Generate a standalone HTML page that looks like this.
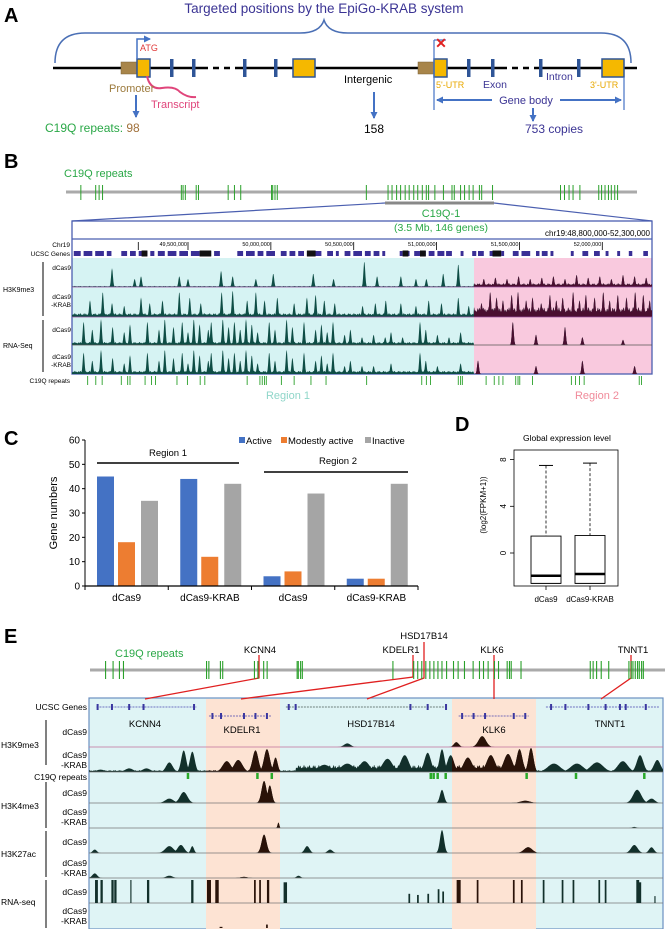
<!DOCTYPE html>
<html><head><meta charset="utf-8">
<style>
body{margin:0;background:#fff}
svg{display:block;font-family:"Liberation Sans",Arial,sans-serif}
</style></head><body>
<svg id="fig" width="665" height="929" viewBox="0 0 665 929" xmlns="http://www.w3.org/2000/svg">
<defs>
<marker id="ab" markerWidth="7" markerHeight="7" refX="6" refY="3.5" orient="auto" markerUnits="userSpaceOnUse"><path d="M0,0 L7,3.5 L0,7 z" fill="#4472c4"/></marker>
<clipPath id="clipB2"><rect x="474" y="250" width="178" height="130"/></clipPath>
<clipPath id="clipEpeach"><rect x="206" y="700" width="74" height="229"/><rect x="452" y="700" width="84" height="229"/></clipPath>
</defs>

<!-- PANEL A -->
<g>
<text x="4" y="22" font-size="20" font-weight="bold">A</text>
<text x="324" y="13" font-size="13.5" fill="#3b3494" text-anchor="middle">Targeted positions by the EpiGo-KRAB system</text>
<path d="M55,63 Q55,33 85,33 L300,33 Q320,33 324,20 Q328,33 348,33 L601,33 Q631,33 631,63" fill="none" stroke="#4a6fb5" stroke-width="1.5"/>
<line x1="53" y1="68" x2="637" y2="68" stroke="#000" stroke-width="2.5"/>
<rect x="202" y="66" width="36" height="4" fill="#fff"/>
<line x1="202" y1="68" x2="238" y2="68" stroke="#000" stroke-width="2.5" stroke-dasharray="6,5"/>
<rect x="501" y="66" width="33" height="4" fill="#fff"/>
<line x1="501" y1="68" x2="534" y2="68" stroke="#000" stroke-width="2.5" stroke-dasharray="6,5"/>
<rect x="121" y="62" width="16" height="12" fill="#a8854a" stroke="#7a6035" stroke-width="0.5"/>
<rect x="137" y="59" width="13" height="18" fill="#f5b800" stroke="#2f5597" stroke-width="1.5"/>
<rect x="170" y="59" width="3.5" height="18" fill="#2f5597"/>
<rect x="192" y="59" width="3.5" height="18" fill="#2f5597"/>
<rect x="243" y="59" width="3.5" height="18" fill="#2f5597"/>
<rect x="274" y="59" width="3.5" height="18" fill="#2f5597"/>
<rect x="293" y="59" width="22" height="18" fill="#f5b800" stroke="#2f5597" stroke-width="1.5"/>
<path d="M137,59 L137,39 L150,39" fill="none" stroke="#4472c4" stroke-width="1.5" marker-end="url(#ab)"/>
<text x="140" y="51" font-size="9" fill="#e03a3a">ATG</text>
<path d="M147,76 Q150,90 162,88 Q175,86 180,92 Q188,98 196,97" fill="none" stroke="#e0457b" stroke-width="2"/>
<text x="109" y="92" font-size="11" fill="#9c7a3c">Promoter</text>
<text x="151" y="108" font-size="11" fill="#e0457b">Transcript</text>
<line x1="136" y1="95" x2="136" y2="117" stroke="#4472c4" stroke-width="2" marker-end="url(#ab)"/>
<text x="45" y="132" font-size="12" fill="#2aa847">C19Q repeats: <tspan fill="#a0703a">98</tspan></text>
<text x="344" y="83" font-size="11">Intergenic</text>
<line x1="374" y1="92" x2="374" y2="118" stroke="#4472c4" stroke-width="2" marker-end="url(#ab)"/>
<text x="364" y="133" font-size="12">158</text>
<rect x="418" y="62" width="16" height="12" fill="#a8854a" stroke="#7a6035" stroke-width="0.5"/>
<rect x="434" y="59" width="13" height="18" fill="#f5b800" stroke="#2f5597" stroke-width="1.5"/>
<rect x="467" y="59" width="3.5" height="18" fill="#2f5597"/>
<rect x="491" y="59" width="3.5" height="18" fill="#2f5597"/>
<rect x="539" y="59" width="3.5" height="18" fill="#2f5597"/>
<rect x="577" y="59" width="3.5" height="18" fill="#2f5597"/>
<rect x="602" y="59" width="22" height="18" fill="#f5b800" stroke="#2f5597" stroke-width="1.5"/>
<line x1="434" y1="40" x2="434" y2="110" stroke="#4472c4" stroke-width="1.2"/>
<line x1="434" y1="40" x2="446" y2="40" stroke="#4472c4" stroke-width="1.2"/>
<text x="441" y="48" font-size="14" font-weight="bold" fill="#e02020" text-anchor="middle">✕</text>
<text x="436" y="88" font-size="9" fill="#e8a800">5'-UTR</text>
<text x="483" y="88" font-size="10.5" fill="#3b3494">Exon</text>
<text x="546" y="80" font-size="10.5" fill="#3b3494">Intron</text>
<text x="590" y="88" font-size="9" fill="#e8a800">3'-UTR</text>
<line x1="624" y1="77" x2="624" y2="110" stroke="#4472c4" stroke-width="1.2"/>
<line x1="492" y1="100" x2="437" y2="100" stroke="#4472c4" stroke-width="2" marker-end="url(#ab)"/>
<line x1="560" y1="100" x2="621" y2="100" stroke="#4472c4" stroke-width="2" marker-end="url(#ab)"/>
<text x="526" y="104" font-size="11" fill="#3b3494" text-anchor="middle">Gene body</text>
<line x1="533" y1="108" x2="533" y2="121" stroke="#4472c4" stroke-width="2" marker-end="url(#ab)"/>
<text x="525" y="133" font-size="12" fill="#3b3494">753 copies</text>
</g>

<!-- PANEL B -->
<g id="pB">
<text x="4" y="168" font-size="20" font-weight="bold">B</text>
<text x="64" y="177" font-size="11" fill="#2aa847">C19Q repeats</text>
<line x1="66" y1="192" x2="637" y2="192" stroke="#aaa" stroke-width="3"/>
<line x1="385" y1="203" x2="494" y2="203" stroke="#888" stroke-width="3"/>
<path d="M385,203 L72,221 M494,203 L652,221" stroke="#4b5fb0" stroke-width="1.2" fill="none"/>
<text x="441" y="217" font-size="11" fill="#2aa847" text-anchor="middle">C19Q-1</text>
<text x="441" y="231" font-size="10.5" fill="#2aa847" text-anchor="middle">(3.5 Mb, 146 genes)</text>
<text x="650" y="236" font-size="8" text-anchor="end">chr19:48,800,000-52,300,000</text>
<rect x="72" y="258" width="402" height="116" fill="#d6f3f3"/>
<rect x="474" y="258" width="178" height="116" fill="#f9c9de"/>
<text x="70" y="247" font-size="6.5" text-anchor="end">Chr19</text>
<text x="70" y="256" font-size="6.5" text-anchor="end">UCSC Genes</text>
<text x="3" y="292" font-size="7">H3K9me3</text>
<line x1="43" y1="262" x2="43" y2="316" stroke="#000"/>
<text x="71" y="270" font-size="6.5" text-anchor="end">dCas9</text>
<text x="71" y="299" font-size="6.5" text-anchor="end">dCas9</text>
<text x="71" y="307" font-size="6.5" text-anchor="end">-KRAB</text>
<text x="3" y="348" font-size="7">RNA-Seq</text>
<line x1="43" y1="320" x2="43" y2="372" stroke="#000"/>
<text x="71" y="332" font-size="6.5" text-anchor="end">dCas9</text>
<text x="71" y="359" font-size="6.5" text-anchor="end">dCas9</text>
<text x="71" y="367" font-size="6.5" text-anchor="end">-KRAB</text>
<text x="70" y="383" font-size="6.5" text-anchor="end">C19Q repeats</text>
<text x="288" y="399" font-size="11" fill="#8fd6c9" text-anchor="middle">Region 1</text>
<text x="597" y="399" font-size="11" fill="#f08a9a" text-anchor="middle">Region 2</text>
</g>

<!-- PANEL C -->
<g id="pC">
<text x="4" y="445" font-size="20" font-weight="bold">C</text>
<text x="57" y="513" font-size="11" text-anchor="middle" transform="rotate(-90 57 513)">Gene numbers</text>
<line x1="97" y1="463" x2="239" y2="463" stroke="#000" stroke-width="1.5"/>
<text x="168" y="456" font-size="9.5" text-anchor="middle">Region 1</text>
<line x1="264" y1="472" x2="408" y2="472" stroke="#000" stroke-width="1.5"/>
<text x="338" y="464" font-size="9.5" text-anchor="middle">Region 2</text>
<g>
<rect x="239" y="437" width="6" height="6" fill="#4472c4"/>
<text x="246" y="444" font-size="9.5">Active</text>
<rect x="281" y="437" width="6" height="6" fill="#ed7d31"/>
<text x="288" y="444" font-size="9.5">Modestly active</text>
<rect x="365" y="437" width="6" height="6" fill="#a5a5a5"/>
<text x="372" y="444" font-size="9.5">Inactive</text>
</g>
</g>

<!-- PANEL D -->
<g id="pD">
<text x="455" y="431" font-size="20" font-weight="bold">D</text>
<text x="567" y="441" font-size="8.5" text-anchor="middle">Global expression level</text>
<rect x="514" y="450" width="104" height="136" fill="none" stroke="#000" stroke-width="0.8"/>
<text x="486" y="505" font-size="8" text-anchor="middle" transform="rotate(-90 486 505)">(log2(FPKM+1))</text>
</g>

<!-- PANEL E -->
<g id="pE">
<text x="4" y="643" font-size="20" font-weight="bold">E</text>
<text x="115" y="657" font-size="11" fill="#2aa847">C19Q repeats</text>
<line x1="90" y1="670" x2="667" y2="670" stroke="#aaa" stroke-width="3"/>
<rect x="89" y="698" width="574" height="231" fill="#dff4f5" stroke="#6b8fc0" stroke-width="1.2"/>
<rect x="206" y="699" width="74" height="230" fill="#fde3d3"/>
<rect x="452" y="699" width="84" height="230" fill="#fde3d3"/>
<g font-size="8.5">
<text x="87" y="710" text-anchor="end">UCSC Genes</text>
<text x="1" y="748">H3K9me3</text>
<text x="87" y="735" text-anchor="end">dCas9</text>
<text x="87" y="758" text-anchor="end">dCas9</text>
<text x="87" y="768" text-anchor="end">-KRAB</text>
<text x="87" y="780" text-anchor="end">C19Q repeats</text>
<text x="1" y="809">H3K4me3</text>
<text x="87" y="796" text-anchor="end">dCas9</text>
<text x="87" y="815" text-anchor="end">dCas9</text>
<text x="87" y="825" text-anchor="end">-KRAB</text>
<text x="1" y="857">H3K27ac</text>
<text x="87" y="845" text-anchor="end">dCas9</text>
<text x="87" y="866" text-anchor="end">dCas9</text>
<text x="87" y="876" text-anchor="end">-KRAB</text>
<text x="1" y="905">RNA-seq</text>
<text x="87" y="895" text-anchor="end">dCas9</text>
<text x="87" y="914" text-anchor="end">dCas9</text>
<text x="87" y="924" text-anchor="end">-KRAB</text>
</g>
<line x1="46" y1="720" x2="46" y2="765" stroke="#000"/>
<line x1="46" y1="782" x2="46" y2="828" stroke="#000"/>
<line x1="46" y1="831" x2="46" y2="877" stroke="#000"/>
<line x1="46" y1="880" x2="46" y2="928" stroke="#000"/>
<g font-size="9.5" text-anchor="middle">
<text x="145" y="727">KCNN4</text>
<text x="242" y="733">KDELR1</text>
<text x="371" y="727">HSD17B14</text>
<text x="494" y="733">KLK6</text>
<text x="610" y="727">TNNT1</text>
<text x="260" y="653">KCNN4</text>
<text x="401" y="653">KDELR1</text>
<text x="424" y="639">HSD17B14</text>
<text x="492" y="653">KLK6</text>
<text x="633" y="653">TNNT1</text>
</g>
<path d="M259,655 L259,678 L145,699 M413,655 L413,677 L241,699 M424,642 L424,678 L367,699 M494,655 L494,699 M631,655 L631,678 L601,699" stroke="#e02020" stroke-width="1.3" fill="none"/>
</g>

<script>
// ===== Panel B data (positions in % of the 3.5 Mb window) =====
const bOverviewRepeats=[2.6,5.2,5.8,6.4,20.2,20.5,20.9,22.8,23.2,28.4,29.5,30.6,36,36.2,36.6,37,52.6,56.4,57.1,57.9,58.6,59.4,60.1,60.9,61.6,62.4,63.1,63.5,64.6,66.1,67.6,68,69.1,69.8,70.6,71.3,72.4,72.8,74.7,86.6,87.3,88.1,88.8,90,93.3,93.8,94.4,95,95.5,96.1,96.6];
const bRulerTicks=[49.2,49.5,50.0,50.5,51.0,51.5,52.0];
const bRulerLabels=['','49,500,000','50,000,000','50,500,000','51,000,000','51,500,000','52,000,000'];
const bGenes=[[0.3,1.5],[2,3.5],[4,5.5],[6,6.8],[8.5,9.5],[10,11],[11.5,13],[13.5,14.2],[14.8,16],[16.5,18],[18.5,20],[20.5,22],[22.5,24],[24.5,25.5],[28.5,29.5],[30,31.5],[32,33],[33.5,35],[36,37],[37.5,38.5],[39,40],[40.5,43],[44,45],[45.5,46],[47,48],[48.5,50],[50.5,51.5],[52,53],[53.5,54],[56.5,57],[57.5,58.2],[59,61],[61.5,62.5],[63,64.2],[64.5,65.5],[67,67.5],[69,69.7],[70,71],[72,72.5],[74,74.5],[76,77],[77.5,79],[80,80.6],[81,82],[82.5,83],[86,86.5],[88,89],[90,91],[92,92.5],[94,94.5],[96,96.6],[98.5,99.3]];
const bGenesBlack=[[12,13],[22,24],[40.5,42],[57,58],[60,61],[72.5,74]];
const bK9Dcas9=[[6.9,.7],[10.8,.3],[11.9,.4],[18.5,.4],[20,.3],[25.7,.6],[27.7,.4],[31.7,.3],[34.7,.5],[41.6,.5],[45.1,.3],[50.4,.95],[52.6,.4],[56.7,.4],[59.3,.3],[61.1,.3],[64,.5],[66.6,.85],[71,.3],[73,.35],[75,.3],[77,.4],[79,.3],[81,.35],[83,.4],[85,.3],[87,.45],[89,.35],[91,.4],[93,.3],[95,.45],[97,.4],[99,.35]];
const bK9DcasFloor=[[0,69.3,.04],[69.3,100,.14]];
const bK9Krab=[[3.1,.6],[5.3,.9],[6.9,.5],[9,.4],[11.9,.7],[13.4,.5],[15.6,.6],[18.5,.9],[20.3,.7],[22.2,.5],[25.8,.9],[27.7,.95],[30.2,.6],[31.7,.9],[33.2,.6],[35.4,.7],[38.3,.5],[40.5,.7],[42,.8],[43.5,.6],[45.3,.5],[50.1,.4],[52.3,.5],[54.1,.6],[56.7,.5],[59.3,.4],[61.5,.6],[63.7,.5],[66.6,.7],[68.4,.4],[70.6,.5],[72.1,.9],[73.2,.7],[74.3,.6],[75.8,.8],[76.9,.9],[78.3,.6],[79.4,.7],[80.9,.5],[82.4,.8],[83.5,.6],[84.6,.7],[86.4,.9],[87.5,.6],[88.6,.8],[90.1,.7],[91.6,.9],[92.7,.6],[94.1,.8],[95.6,.7],[97.1,.9],[98.5,.8],[99.6,.6]];
const bK9KrabFloor=[[0,69.3,.14],[69.3,100,.35]];
const bRnaDcas9=[[2,.9],[3.5,.6],[5,1],[7,.7],[9,.5],[10,.8],[13,.9],[15,.6],[16,1],[17.5,.7],[19,.9],[20,.5],[21,1],[22,.8],[23.5,.6],[24,.9],[26,1],[27,.7],[28,.9],[29,.6],[30,1],[31,.8],[32,.5],[34,.9],[35,.6],[37,1],[38,.7],[40,.9],[42,.6],[43,.8],[44,.5],[45,.9],[47,.4],[48,.6],[50,.3],[52,.4],[54,.3],[55,.5],[57,.3],[60,.9],[61,.6],[63,.4],[65,.3],[67,.5],[76,.9],[80,.4],[85,.7],[88,.3],[95,.2]];
const bRnaFloor=[[0,69.3,.12]];
const bRnaKrab=[[2,.8],[3.5,.5],[5,.9],[7,.6],[9,.4],[10,.7],[13,.8],[15,.5],[16,.9],[17.5,.6],[19,.8],[20,.4],[21,.9],[22,.7],[23.5,.5],[24,.8],[26,.9],[27,.6],[28,.8],[29,.5],[30,.9],[31,.7],[32,.4],[34,.8],[35,.5],[37,.9],[38,.6],[40,.8],[42,.5],[43,.7],[44,.4],[45,.8],[47,.3],[48,.5],[50,.3],[52,.3],[55,.4],[60,.8],[61,.5],[63,.3],[67,.4],[70,.5],[80,.3],[88,.5],[97,.3]];
const bRepeatsRow=[2.7,4.1,5.2,8.5,9.6,10,12.6,13.7,14.4,18.1,19.9,22.1,22.9,30.2,32.4,32.8,33.2,33.5,36.1,38.3,41.2,43.8,50.8,60.3,61.1,61.8,66.6,67,67.3,71.4,72.8,73.6,74.3,76.5,76.9,77.2,79.4,86.1,86.8,87.5,88.3,97.8,98.2];

// ===== Panel C data =====
const cCategories=['dCas9','dCas9-KRAB','dCas9','dCas9-KRAB'];
const cActive=[45,44,4,3];
const cModest=[18,12,6,3];
const cInactive=[35,42,38,42];
const cTicks=[0,10,20,30,40,50,60];

// ===== Panel D data =====
const dGroups=['dCas9','dCas9-KRAB'];
const dWhiskerHigh=[7.5,7.7];
const dQ3=[1.45,1.5];
const dMedian=[-1.95,-1.8];
const dQ1=[-2.6,-2.6];
const dWhiskerLow=[-2.6,-2.6];
const dTicks=[0,4,8];

// ===== Panel E data (positions in % of window) =====
const eOverviewRepeats=[2.7,4,5.1,5.8,20.2,20.6,22.6,23,28.5,29.1,30.1,30.7,35.9,36.1,36.5,36.8,52.5,56.1,56.8,57.5,58.2,58.9,59.6,60.3,61,61.8,63,63.8,64.9,66.4,67.5,68.2,69,70.1,70.8,72.3,72.7,73,74.7,86.7,87.2,87.8,88.6,89.9,93.4,93.8,94.1,94.5,94.9,95.2,95.6,95.9];
const eGeneModels=[[1.3,18.7,0],[20.9,31.7,1],[34.3,62.5,0],[64.4,76.6,1],[79.6,99.3,0]];
const eGeneExons=[[1.5,0],[4,0],[7,0],[9.5,0],[18.3,0],[21.5,1],[23,1],[27,1],[29,1],[31,1],[34.8,0],[36,0],[56,0],[59,0],[62.2,0],[65,1],[67,1],[69,1],[74,1],[76,1],[80.5,0],[83,0],[87,0],[90,0],[92.5,0],[93.5,0],[97,0]];
const eK9Dcas9=[[45,.15,.8],[64,.2,.6],[68.5,.45,.9]];
const eK9Krab=[[2,.1,1],[7,.15,1],[10,.15,1],[14,.4,.8],[16.5,.9,.6],[18,.85,.6],[24,.45,1],[26,.5,1],[29,.9,.7],[31,.95,.7],[32.5,.6,.5],[41,.3,1.5],[45,.35,1.5],[48,.45,1.2],[52,.55,1.2],[55,.7,1],[59,.8,.8],[61.5,.95,.6],[63,.7,.8],[66,.6,1],[70,.7,1],[73,.75,1],[75,.95,.7],[77,1,.6],[81,.35,1.5],[85,.35,1.5],[88.5,.4,1.5],[93,.45,1.2],[96,.7,.8],[99,.5,.8]];
const eK9KrabFloor=[[0,100,.08],[36,76,.3]];
const eK4Dcas9=[[14,.2,1],[16.5,.5,.9],[30.5,1,.6],[31.5,.8,.5],[61.5,.6,.5],[76,.1,1.2],[95.5,.6,1],[98,.2,.8]];
const eK4Krab=[[33,.25,.2],[95,.05,.5]];
const eK27Dcas9=[[1,.15,.5],[14,.3,1],[16,.35,.8],[18,.3,.4],[30.5,.8,.6],[38,.3,.6],[42,.15,.6],[61.5,1,.5],[76.5,.25,1],[95,.35,.8],[98,.25,.6]];
const eK27Krab=[[1,.2,.6],[14,.1,.8],[36.5,.1,.5],[27,.05,.8]];
const eRnaDcas9=[[1.3,1,.5],[2.2,1,.4],[4.1,1,.4],[4.6,1,.4],[7.3,1,.2],[10.3,1,.4],[18,1,.4],[20.9,1,.7],[22.3,1,.6],[28.9,1,.3],[29.8,1,.3],[31.2,1,.4],[34.2,.9,.6],[55.8,.4,.3],[57.3,.35,.3],[59.1,.4,.3],[60.9,.6,.3],[61.7,.5,.3],[64.4,1,.7],[67.7,1,.3],[74,1,.3],[75.4,1,.3],[79.2,1,.3],[82.5,1,.3],[84.4,1,.3],[88.9,1,.3],[90,1,.3],[95.6,1,.5],[96,.9,.4],[98.6,.3,.2]];
const eRnaKrab=[[31,.15,.3],[23,.05,.5]];
const eRepeatsRow=[17.2,29.3,31.8,59.5,60,60.7,62.1,76.2,84.8,96.7];

const NS='http://www.w3.org/2000/svg';
const svg=document.getElementById('fig');
function mk(tag,attrs,parent){const e=document.createElementNS(NS,tag);for(const k in attrs)e.setAttribute(k,attrs[k]);(parent||svg).appendChild(e);return e;}
const gB=document.getElementById('pB'), gC=document.getElementById('pC'), gD=document.getElementById('pD'), gE=document.getElementById('pE');

// axis functions
const xOvB=p=>66+p*5.71;
const xB=p=>72+p*5.8;
const xOvE=p=>90+p*5.77;
const xE=p=>89+p*5.74;
const rulerX=mb=>72+(mb-48.8)/3.5*580;

function trackPath(peaks,floors,xf,yb,h,defW,x0,x1){
  let d='M'+x0+','+yb;
  for(let x=x0;x<=x1;x+=0.5){
    let v=0;
    for(const f of floors){const a=xf(f[0]),b=xf(f[1]);if(x>=a&&x<=b){v=Math.max(v,f[2]*(0.5+0.5*Math.abs(Math.sin(x*1.7)*Math.cos(x*0.63))));}}
    for(const p of peaks){const w=(p[2]||defW)*5.77;const t=(x-xf(p[0]))/w;v=Math.max(v,p[1]*Math.exp(-t*t));}
    d+=' L'+x.toFixed(1)+','+(yb-v*h).toFixed(1);
  }
  return d+' L'+x1+','+yb+' Z';
}

// ---- Panel B ----
for(const p of bOverviewRepeats){const l=mk('line',{x1:xOvB(p),x2:xOvB(p),y1:185,y2:200,stroke:'#2aa02a','stroke-width':1},gB);

}
const boxB=mk('rect',{x:72,y:221,width:580,height:153,fill:'none',stroke:'#4b5fb0','stroke-width':1.3},gB);


const sepB=mk('line',{x1:72,x2:652,y1:239,y2:239,stroke:'#4b5fb0','stroke-width':1.2},gB);


bRulerTicks.forEach((t,i)=>{const l=mk('line',{x1:rulerX(t),x2:rulerX(t),y1:242,y2:250,stroke:'#000','stroke-width':0.8},gB);


if(bRulerLabels[i]){const tx=mk('text',{x:rulerX(t)-1,y:246,'font-size':5.5,'text-anchor':'end'},gB);tx.textContent=bRulerLabels[i];

}});
for(const g of bGenes){const r=mk('rect',{x:xB(g[0]),y:251,width:Math.max(1,xB(g[1])-xB(g[0])),height:5,fill:'#3a2f96'},gB);

}
for(const g of bGenesBlack){const r=mk('rect',{x:xB(g[0]),y:250.5,width:xB(g[1])-xB(g[0]),height:6,fill:'#111'},gB);

}
const rowsB=[[bK9Dcas9,bK9DcasFloor,287,27,'h3k9me3-dcas9-track'],[bK9Krab,bK9KrabFloor,317,28,'h3k9me3-krab-track'],[bRnaDcas9,bRnaFloor,345,26,'rnaseq-dcas9-track'],[bRnaKrab,bRnaFloor,374,27,'rnaseq-krab-track']];
for(const r of rowsB){const d=trackPath(r[0],r[1],xB,r[2],r[3],0.22,72,652);
const p1=mk('path',{d:d,fill:'#0e4d45'},gB);


const p2=mk('path',{d:d,fill:'#4a0f30','clip-path':'url(#clipB2)'},gB);

}
[[287,'#9a4fa0'],[317,'#9a4fa0'],[345,'#555']].forEach(s=>{const l=mk('line',{x1:72,x2:652,y1:s[0],y2:s[0],stroke:s[1],'stroke-width':0.8},gB);

});
for(const p of bRepeatsRow){const l=mk('line',{x1:xB(p),x2:xB(p),y1:376,y2:385,stroke:'#2aa02a','stroke-width':0.9},gB);

}

// ---- Panel C ----
const yC=v=>586-v*146/60;
const bandC=333/4;
cTicks.forEach(t=>{const tx=mk('text',{x:80,y:yC(t)+3.5,'font-size':10,'text-anchor':'end'},gC);tx.textContent=t;


const tl=mk('line',{x1:82,x2:85,y1:yC(t),y2:yC(t),stroke:'#000'},gC);

});
const yAx=mk('line',{x1:85,x2:85,y1:yC(60),y2:yC(0),stroke:'#000','stroke-width':1},gC);


const series=[[cActive,'#4472c4',0,'bar-active'],[cModest,'#ed7d31',21,'bar-modest'],[cInactive,'#a5a5a5',44,'bar-inactive']];
cCategories.forEach((c,i)=>{const x0=85+i*bandC+12;
for(const s of series){const v=s[0][i];const r=mk('rect',{x:x0+s[2],y:yC(v),width:17,height:yC(0)-yC(v),fill:s[1]},gC);

}
const tx=mk('text',{x:85+(i+0.5)*bandC,y:601,'font-size':10,'text-anchor':'middle'},gC);tx.textContent=c;

});
for(let i=0;i<=4;i++){const l=mk('line',{x1:85+i*bandC,x2:85+i*bandC,y1:586,y2:590,stroke:'#000'},gC);

}
const xAx=mk('line',{x1:85,x2:418,y1:586,y2:586,stroke:'#000','stroke-width':1.2},gC);



// ---- Panel D ----
const yD=v=>553-v*46.7/4;
const xD=i=>546+44*i;
dTicks.forEach(t=>{const l=mk('line',{x1:510,x2:514,y1:yD(t),y2:yD(t),stroke:'#000','stroke-width':0.8},gD);


const tx=mk('text',{x:506,y:yD(t),'font-size':8,'text-anchor':'middle',transform:'rotate(-90 506 '+yD(t)+')'},gD);tx.textContent=t;

});
dGroups.forEach((g,i)=>{const cx=xD(i);
const w=mk('line',{x1:cx,x2:cx,y1:yD(dWhiskerHigh[i]),y2:yD(dQ3[i]),stroke:'#000','stroke-width':0.8,'stroke-dasharray':'3,2'},gD);


const cap=mk('line',{x1:cx-7,x2:cx+7,y1:yD(dWhiskerHigh[i]),y2:yD(dWhiskerHigh[i]),stroke:'#000','stroke-width':1},gD);


const b=mk('rect',{x:cx-15,y:yD(dQ3[i]),width:30,height:yD(dQ1[i])-yD(dQ3[i]),fill:'#fff',stroke:'#000','stroke-width':0.9},gD);


const lo=mk('line',{x1:cx-15,x2:cx+15,y1:yD(dWhiskerLow[i]),y2:yD(dWhiskerLow[i]),stroke:'#000','stroke-width':0.8},gD);


const m=mk('line',{x1:cx-15,x2:cx+15,y1:yD(dMedian[i]),y2:yD(dMedian[i]),stroke:'#000','stroke-width':2.5},gD);


const t=mk('line',{x1:cx,x2:cx,y1:586,y2:590,stroke:'#000','stroke-width':0.8},gD);


const tx=mk('text',{x:cx,y:602,'font-size':8,'text-anchor':'middle'},gD);tx.textContent=g;

});

// ---- Panel E ----
for(const p of eOverviewRepeats){const l=mk('line',{x1:xOvE(p),x2:xOvE(p),y1:661,y2:679,stroke:'#2aa02a','stroke-width':1.1},gE);

}
eGeneModels.forEach((g,i)=>{const y=g[2]?716:707;const col=i==2?'#4a5a55':'#4b47b0';
const l=mk('line',{x1:xE(g[0]),x2:xE(g[1]),y1:y,y2:y,stroke:col,'stroke-width':0.8,'stroke-dasharray':'2,1'},gE);

});
for(const e of eGeneExons){const y=e[1]?716:707;const r=mk('rect',{x:xE(e[0])-1,y:y-3,width:2,height:6,fill:'#3a37a0'},gE);

}
const rowsE=[[eK9Dcas9,[],747,24,'h3k9me3-dcas9-track-e'],[eK9Krab,eK9KrabFloor,772,24,'h3k9me3-krab-track-e'],[eK4Dcas9,[],803,22,'h3k4me3-dcas9-track'],[eK4Krab,[],828,22,'h3k4me3-krab-track'],[eK27Dcas9,[],853,23,'h3k27ac-dcas9-track'],[eK27Krab,[],878,23,'h3k27ac-krab-track']];
for(const r of rowsE){const d=trackPath(r[0],r[1],xE,r[2],r[3],0.8,89,663);
const p1=mk('path',{d:d,fill:'#12302b'},gE);


const p2=mk('path',{d:d,fill:'#2a1208','clip-path':'url(#clipEpeach)'},gE);

}
[[747,'#c0709a'],[772,'#777'],[803,'#777'],[828,'#777'],[853,'#777'],[878,'#777'],[903,'#777']].forEach(s=>{const l=mk('line',{x1:89,x2:663,y1:s[0],y2:s[0],stroke:s[1],'stroke-width':0.8},gE);

});
for(const p of eRepeatsRow){const r=mk('rect',{x:xE(p)-1,y:773,width:2.5,height:6,fill:'#2aaa2a'},gE);

}
[[eRnaDcas9,903,'rnaseq-dcas9-spike'],[eRnaKrab,928,'rnaseq-krab-spike']].forEach(t=>{
for(const s of t[0]){const inPeach=(xE(s[0])>206&&xE(s[0])<280)||(xE(s[0])>452&&xE(s[0])<536);
const r=mk('rect',{x:xE(s[0])-s[2]*2.87,y:t[1]-s[1]*23,width:Math.max(1,s[2]*5.74),height:s[1]*23,fill:inPeach?'#2a1208':'#12302b'},gE);

}});
</script>
</svg>
</body></html>
